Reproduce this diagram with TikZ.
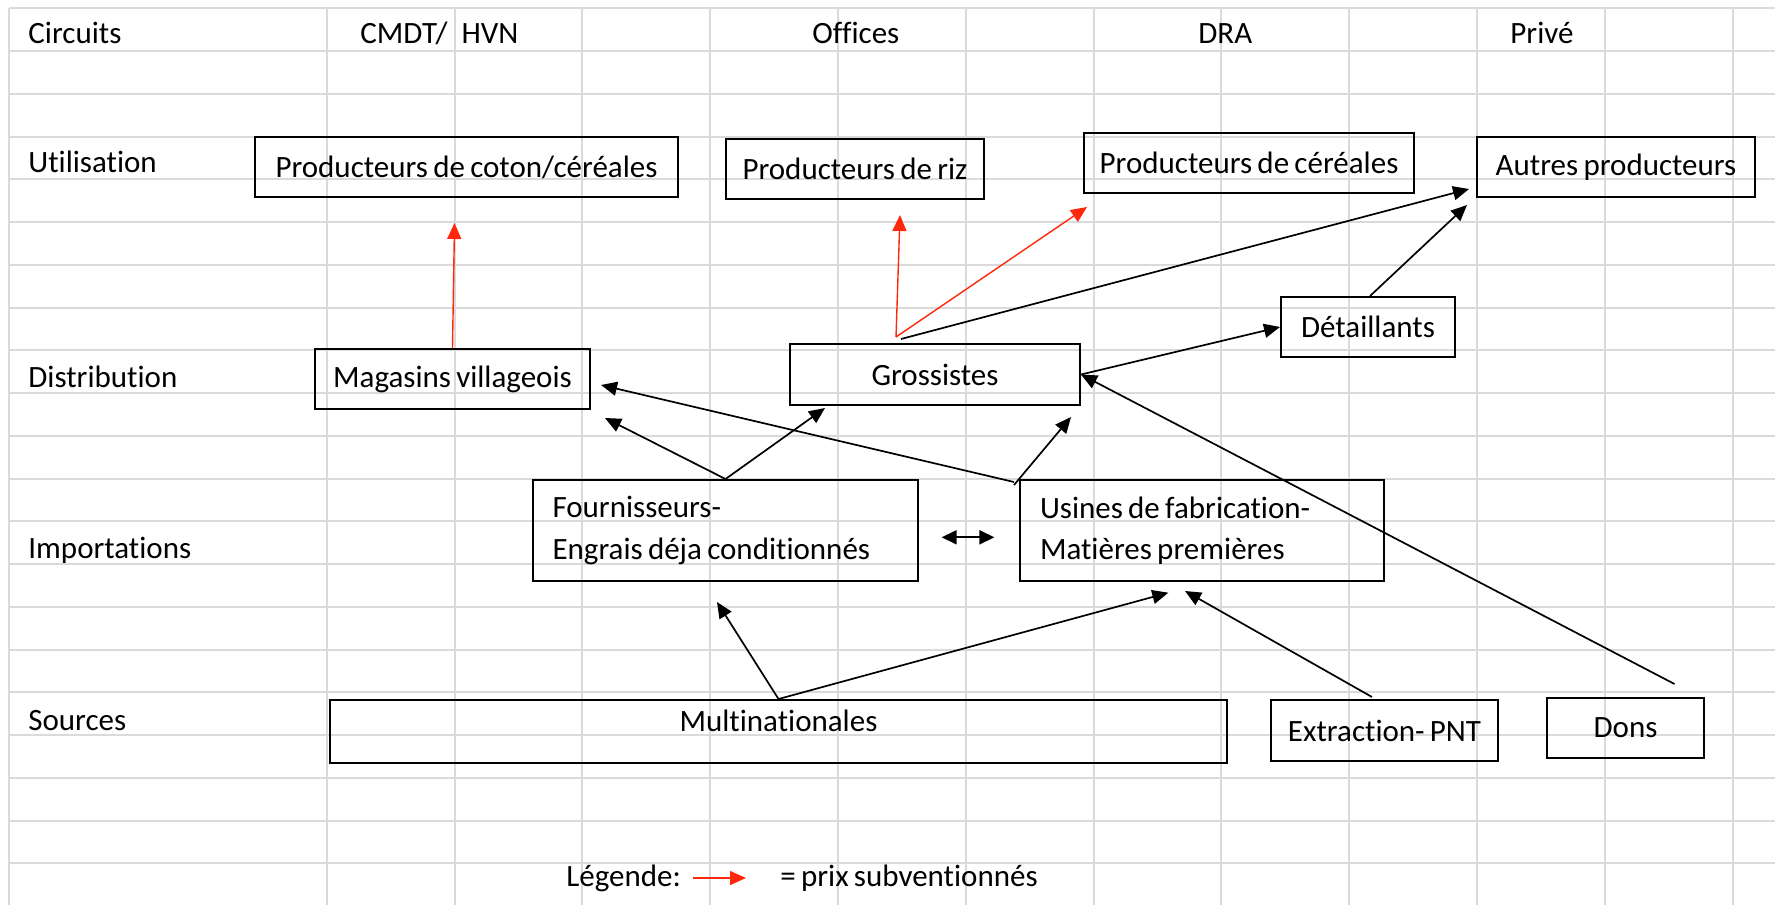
\documentclass[tikz,border=0pt]{standalone}
\usepackage{fontspec}
\setmainfont{Carlito}[Ligatures=NoCommon]
\usetikzlibrary{arrows.meta,calc}
\definecolor{gridgray}{RGB}{218,218,218}
\definecolor{subred}{RGB}{255,40,10}
\newcommand{\tightspace}{\spaceskip=0.17em plus 0.05em\relax}
\begin{document}
\begin{tikzpicture}[x=0.5pt,y=-0.5pt,
  every node/.style={font=\fontsize{15.5pt}{20.75pt}\selectfont,execute at begin node=\tightspace},
  box/.style={draw=black,line width=1pt,inner sep=0pt,minimum height=30pt},
  lbl/.style={anchor=base west,inner sep=0pt},
  arr/.style={draw=black,line width=0.85pt,-{Triangle[length=8pt,width=7pt]}},
  dblarr/.style={draw=black,line width=0.85pt,{Triangle[length=7.5pt,width=7pt]}-{Triangle[length=7.5pt,width=7pt]}},
  redarr/.style={draw=subred,line width=0.7pt,-{Triangle[length=8pt,width=7pt]}},
  gridline/.style={draw=gridgray,line width=1pt}]

\fill[white] (0,0) rectangle (1775,905);
\useasboundingbox (0,0) rectangle (1775,905);

% grid
\foreach \k in {0,...,20} \draw[gridline] (9.2,{8.3+42.75*\k}) -- (1775,{8.3+42.75*\k});
\draw[gridline] (9.2,8.3) -- (9.2,905);
\foreach \k in {0,...,11} \draw[gridline] ({326.8+127.8*\k},8.3) -- ({326.8+127.8*\k},905);

% headers and row labels
\node[lbl] (hCircuits) at (28,43) {Circuits};
\node[lbl] (hCMDT) at (360,43) {CMDT/\hspace{7pt}HVN};
\node[lbl] (hOffices) at (812,43) {Offices};
\node[lbl] (hDRA) at (1198,43.5) {DRA};
\node[lbl] (hPrive) at (1510,43.5) {Privé};
\node[lbl] (rUtil) at (28,172.5) {Utilisation};
\node[lbl] (rDist) at (28,387) {Distribution};
\node[lbl] (rImp) at (28,558) {Importations};
\node[lbl] (rSrc) at (28,730) {Sources};

% boxes
\node[box,minimum width=211.5pt] (coton) at (466.5,167) {Producteurs de coton/céréales};
\node[box,minimum width=129pt] (riz) at (855,169) {Producteurs de riz};
\node[box,minimum width=165pt] (cereales) at (1249,163) {Producteurs de céréales};
\node[box,minimum width=139pt] (autres) at (1616,167) {Autres producteurs};
\node[box,minimum width=137.5pt] (magasins) at (452.5,379) {Magasins villageois};
\node[box,minimum width=145pt,minimum height=30.5pt] (grossistes) at (935,374.5) {Grossistes};
\node[box,minimum width=87pt] (detaillants) at (1368,327) {Détaillants};
\node[box,minimum height=50.5pt,text width=173pt,align=left,inner xsep=9.75pt] (fournisseurs) at (725.5,530.5) {Fournisseurs-\\Engrais déja conditionnés};
\node[box,minimum height=50.5pt,text width=162pt,align=left,inner xsep=10pt] (usines) at (1202,530.5) {Usines de fabrication-\\Matières premières};
\node[box,minimum width=448.5pt,minimum height=31.5pt] (multi) at (778.5,731.5) {\raisebox{0pt}[0pt][0pt]{Multinationales}};
\node[box,minimum width=113.5pt,minimum height=30.5pt] (extraction) at (1384.5,730.5) {Extraction- PNT};
\node[box,minimum width=78.5pt] (dons) at (1625.5,728) {Dons};

% red arrows (subsidised prices)
\draw[redarr] (magasins.north) -- ([xshift=-6pt,yshift=-12.5pt]coton.south);
\coordinate (gtop) at ([xshift=-19.5pt,yshift=3pt]grossistes.north);
\draw[redarr] (gtop) -- ([xshift=22.5pt,yshift=-7.5pt]riz.south);
\draw[redarr] (gtop) -- ([xshift=2pt,yshift=-6.5pt]cereales.south west);

% black arrows
\draw[arr] ([xshift=-17pt,yshift=2pt]grossistes.north) -- ([xshift=-3.5pt,yshift=4.5pt]autres.south west);
\draw[arr] ([xshift=1pt]detaillants.north) -- ([xshift=-4.5pt,yshift=-3.5pt]autres.south west);
\draw[arr] (grossistes.east) -- (detaillants.west);
\draw[arr] ([xshift=24.5pt,yshift=6.5pt]dons.north) -- (grossistes.east);
\draw[arr] (fournisseurs.north) -- ([xshift=7pt,yshift=-4pt]magasins.south east);
\draw[arr] (fournisseurs.north) -- ([xshift=18pt,yshift=-1pt]grossistes.south west);
\draw[arr] ([xshift=-2.5pt,yshift=-1.5pt]usines.north west) -- ([xshift=5pt,yshift=-3pt]magasins.east);
\draw[arr] ([xshift=-2.5pt,yshift=-3pt]usines.north west) -- ([xshift=-5pt,yshift=-5.5pt]grossistes.south east);
\draw[dblarr] ([xshift=11.3pt,yshift=-3.4pt]fournisseurs.east) -- ([xshift=-12.3pt,yshift=-3.4pt]usines.west);
\draw[arr] (multi.north) -- ([xshift=-4.25pt,yshift=-10pt]fournisseurs.south);
\draw[arr] (multi.north) -- ([xshift=-16.85pt,yshift=-5.35pt]usines.south);
\draw[arr] ([xshift=-6.25pt,yshift=1pt]extraction.north) -- ([xshift=-8.5pt,yshift=-4.5pt]usines.south);

% legend
\node[lbl] (legende) at (566,886) {Légende:};
\coordinate (lgA) at (693,878);
\coordinate (lgB) at (746,878);
\draw[redarr] (lgA) -- (lgB);
\node[lbl] (legtext) at (780,886) {= prix subventionnés};
\end{tikzpicture}
\end{document}
